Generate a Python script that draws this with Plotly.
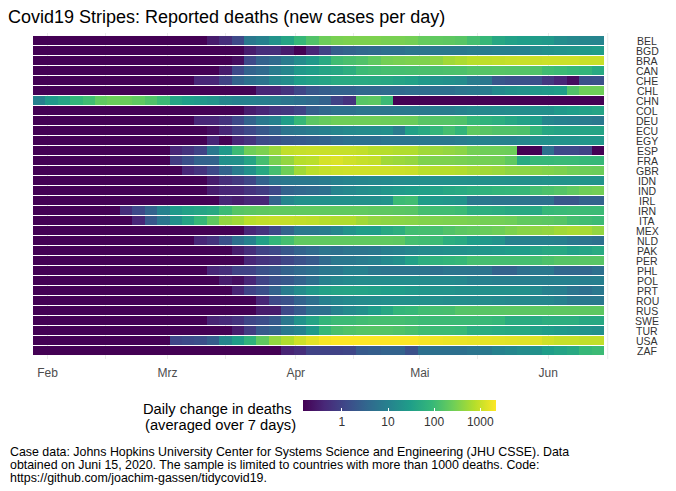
import numpy as np
import pandas as pd
import plotly.graph_objects as go

# 7-day average of new deaths per day, one value per 3-day block starting 2020-01-29
countries = ["BEL", "BGD", "BRA", "CAN", "CHE", "CHL", "CHN", "COL", "DEU", "ECU", "EGY",
             "ESP", "FRA", "GBR", "IDN", "IND", "IRL", "IRN", "ITA", "MEX", "NLD", "PAK",
             "PER", "PHL", "POL", "PRT", "ROU", "RUS", "SWE", "TUR", "USA", "ZAF"]

BEL = [0]*14 + [0.3, 0.5, 1.2, 7, 10, 20, 40, 90, 150, 250, 300, 320, 320, 320, 300, 300, 280, 220, 200, 190, 170, 120, 90, 45, 35, 30, 28, 25, 16, 13, 12, 11]
BGD = [0]*17 + [0.3, 0.5, 0.5, 0.3, 0, 0.4, 1.0, 2.5, 3, 3.5, 4, 5, 5, 6, 6, 7, 7, 7, 8, 8, 9, 9, 10, 15, 18, 20, 22, 25, 28]
BRA = [0]*16 + [0.2, 1.2, 3, 4, 8, 15, 25, 50, 110, 130, 150, 200, 280, 300, 320, 330, 400, 550, 650, 800, 850, 900, 950, 1000, 1000, 1050, 1050, 1050, 1000, 1000]
CAN = [0]*15 + [0.3, 1.2, 3, 4, 8, 12, 25, 30, 40, 45, 60, 100, 110, 120, 120, 125, 130, 130, 135, 140, 160, 165, 170, 165, 160, 150, 110, 100, 90, 80, 50]
CHE = [0]*13 + [0.4, 0.4, 1, 3, 5, 6, 12, 16, 30, 35, 40, 50, 50, 50, 48, 45, 40, 35, 25, 20, 18, 15, 8, 7, 2, 1.6, 1.6, 1.5, 0.7, 0.4, 0.2, 1.5, 1.6]
CHL = [0]*18 + [0.4, 0.4, 0.6, 1.1, 2, 2.5, 3, 3, 3.5, 3.5, 4, 4, 4.5, 4.5, 5, 5, 6, 7, 8, 14, 18, 20, 22, 25, 30, 150, 260, 260]
CHN = [10, 25, 40, 80, 110, 200, 240, 240, 200, 150, 100, 40, 30, 25, 20, 12, 10, 10, 9, 8, 6, 5, 4, 3, 1, 0.6, 170, 185, 100] + [0]*17
COL = [0]*17 + [0.3, 0.4, 0.6, 0.7, 1, 2.5, 3.5, 5, 5, 6, 6, 6, 7, 7, 7, 8, 8, 10, 12, 13, 14, 15, 16, 17, 18, 25, 30, 35, 40]
DEU = [0]*13 + [0.4, 0.4, 0.6, 1.2, 3, 7, 10, 30, 90, 180, 220, 260, 260, 260, 260, 250, 250, 240, 170, 165, 160, 150, 90, 70, 60, 45, 35, 30, 12, 10, 9, 8, 7]
ECU = [0]*14 + [0.2, 0.4, 0.8, 1.2, 2, 3, 6, 7, 8, 10, 12, 14, 15, 16, 18, 8, 35, 50, 80, 120, 80, 200, 170, 150, 150, 140, 80, 45, 40, 40, 40, 40]
EGY = [0]*14 + [0.4, 0, 0.4, 0.6, 1.2, 1.5, 2, 2.2, 2.5, 3, 4, 5, 5, 5, 6, 6, 6, 7, 7, 7, 8, 10, 10, 10, 10, 12, 18, 18, 20, 20, 22, 22]
ESP = [0]*11 + [0.4, 0.6, 1, 7, 25, 100, 260, 320, 500, 900, 950, 1000, 1000, 950, 950, 900, 750, 750, 700, 700, 550, 500, 450, 400, 280, 260, 260, 250, 0, 0, 5, 1.2, 1.2, 1, 0]
FRA = [0]*11 + [0.8, 1.5, 3, 3, 18, 18, 40, 120, 300, 450, 750, 800, 1200, 1300, 1100, 950, 900, 550, 500, 450, 330, 320, 320, 300, 280, 280, 270, 200, 50, 90, 90, 95, 95, 90, 90]
GBR = [0]*12 + [0.4, 0.6, 1.2, 3, 8, 18, 47, 120, 260, 550, 800, 950, 1050, 1100, 1100, 1100, 1100, 1050, 1000, 800, 750, 750, 700, 600, 550, 500, 420, 400, 380, 350, 320, 270, 260, 250]
IDN = [0]*14 + [0.3, 0.5, 0.7, 1.1, 3, 6, 7, 7, 7, 8, 10, 11, 12, 13, 14, 15, 16, 17, 17, 18, 18, 18, 18, 18, 18, 18, 18, 19, 19, 20, 20, 20]
IND = [0]*14 + [0.3, 0.4, 0.4, 0.6, 0.8, 1.2, 3, 3.5, 4, 5, 11, 13, 16, 18, 22, 26, 29, 33, 38, 45, 50, 60, 70, 80, 85, 90, 120, 140, 160, 200, 260, 280]
IRL = [0]*15 + [0.4, 0.3, 0.4, 0.4, 3, 12, 18, 18, 18, 18, 18, 18, 18, 20, 100, 110, 29, 25, 22, 20, 7, 7, 6, 6, 6, 5, 5, 2, 2, 3, 3]
IRN = [0]*7 + [0.5, 1.2, 3, 10, 25, 35, 40, 47, 100, 165, 180, 190, 200, 200, 200, 200, 200, 200, 200, 200, 190, 190, 180, 170, 120, 110, 110, 100, 60, 60, 55, 47, 47, 47, 90, 95, 100, 100, 100]
ITA = [0]*8 + [0.4, 2, 6, 18, 40, 90, 200, 450, 550, 800, 900, 950, 950, 900, 850, 750, 700, 700, 550, 450, 420, 400, 380, 350, 330, 320, 320, 300, 280, 280, 260, 200, 190, 180, 165, 120, 110, 100]
MEX = [0]*17 + [0.4, 0.6, 1.2, 3, 7, 7, 8, 12, 20, 29, 29, 47, 60, 110, 120, 120, 150, 180, 200, 230, 260, 320, 380, 420, 450, 550, 620, 600, 450]
NLD = [0]*13 + [0.4, 0.6, 1.6, 5, 10, 35, 80, 120, 200, 200, 200, 200, 200, 200, 200, 200, 190, 120, 110, 100, 60, 50, 29, 25, 20, 10, 10, 10, 10, 9, 7, 6, 5]
PAK = [0]*16 + [0.3, 0.5, 1, 1.2, 2, 3, 4, 6, 5, 6, 6, 7, 9, 10, 12, 14, 16, 18, 18, 20, 22, 25, 29, 29, 40, 47, 47, 35, 40, 50]
PER = [0]*17 + [0.4, 0.6, 0.7, 1.1, 1.6, 2.2, 4, 7, 7, 8, 10, 14, 18, 35, 60, 70, 80, 90, 120, 120, 120, 120, 120, 120, 140, 165, 165, 170, 170]
PHL = [0]*14 + [0.4, 0.5, 1, 1, 1.6, 2, 3, 4, 5, 7, 7, 10, 10, 7, 6, 6, 6, 6, 5, 6, 6, 6, 6, 3, 3, 5, 7, 7, 3.5, 3.5, 3.5, 5]
POL = [0]*15 + [0.3, 0.2, 0.4, 1, 1.6, 2, 3, 5, 10, 12, 14, 15, 15, 16, 16, 16, 15, 14, 14, 13, 10, 10, 9, 9, 9, 9, 9, 10, 10, 9, 9]
PRT = [0]*16 + [0.37, 1, 1.5, 3, 8, 15, 25, 35, 40, 40, 38, 35, 30, 29, 25, 22, 20, 20, 18, 18, 18, 18, 18, 18, 14, 10, 9, 6, 5, 7]
ROU = [0]*18 + [0.4, 1.2, 1.6, 3, 5, 10, 12, 14, 15, 16, 17, 18, 18, 18, 17, 16, 16, 15, 15, 14, 13, 13, 12, 12, 10, 7, 7, 7]
RUS = [0]*18 + [0.3, 0.3, 1.2, 2.2, 5, 5, 10, 14, 18, 29, 45, 80, 90, 110, 120, 125, 160, 165, 170, 175, 180, 180, 185, 185, 190, 190, 190, 190]
SWE = [0]*14 + [0.37, 0.45, 0.6, 1.1, 1.4, 2.2, 7, 20, 40, 80, 100, 100, 110, 120, 120, 120, 110, 100, 100, 100, 100, 100, 95, 90, 55, 55, 50, 60, 60, 60, 47, 47]
TUR = [0]*16 + [0.3, 0.8, 2.2, 3, 7, 10, 25, 90, 130, 150, 160, 165, 160, 150, 130, 110, 100, 100, 95, 60, 55, 50, 47, 47, 35, 29, 25, 22, 20, 18]
USA = [0]*11 + [1.1, 1.3, 1.5, 2.5, 12, 29, 70, 200, 450, 700, 1100, 1500, 2000, 2200, 2200, 2200, 2200, 2200, 2200, 2200, 2000, 1800, 1700, 1650, 1600, 1550, 1500, 1450, 1400, 1350, 1100, 950, 950, 900, 900]
ZAF = [0]*20 + [0.37, 0.5, 1, 1, 1, 1.1, 2.2, 2.5, 3, 3, 1.6, 5, 5, 5, 5, 6, 7, 10, 12, 15, 18, 29, 38, 47, 90, 100]

series = [BEL, BGD, BRA, CAN, CHE, CHL, CHN, COL, DEU, ECU, EGY, ESP, FRA, GBR, IDN, IND,
          IRL, IRN, ITA, MEX, NLD, PAK, PER, PHL, POL, PRT, ROU, RUS, SWE, TUR, USA, ZAF]

block_centres = pd.date_range("2020-01-30", periods=46, freq="3D")
month_ticks = ["2020-02-01", "2020-03-01", "2020-04-01", "2020-05-01", "2020-06-01"]
month_labels = ["Feb", "Mrz", "Apr", "Mai", "Jun"]
mid_month = ["2020-02-15", "2020-03-15", "2020-04-15", "2020-05-15"]
legend_ticks = [1, 10, 100, 1000]

floor = 1 / 7
top = 2200
z = [[np.log10(max(v, floor)) for v in s] for s in series]

W, H = 676, 491
L, R, T, B = 33, 604, 33, 359
pw, ph = R - L, B - T


def px(x):
    return (x - L) / pw


def py(y):
    return (B - y) / ph


fig = go.Figure(go.Heatmap(
    x=block_centres, y=countries, z=z,
    colorscale="Viridis", zmin=np.log10(floor), zmax=np.log10(top),
    ygap=1, hoverinfo="skip",
    colorbar=dict(
        orientation="h", lenmode="pixels", len=193, thickness=11,
        x=px(303), xanchor="left", y=py(400), yanchor="top",
        xpad=0, ypad=0, outlinewidth=0,
        tickvals=[np.log10(v) for v in legend_ticks],
        ticktext=[str(v) for v in legend_ticks],
        ticks="inside", ticklen=3, tickcolor="white", tickwidth=1,
        tickfont=dict(size=12, color="#333333", family="Liberation Sans, Arial, sans-serif"),
    ),
))

annotations = []
for c in countries:
    annotations.append(dict(
        x=1, xref="paper", xshift=43, y=c, yref="y", text=c, showarrow=False,
        xanchor="center", yanchor="middle",
        font=dict(size=10.5, color="#333333",
                  family="Liberation Sans Narrow, Arial Narrow, Liberation Sans, Arial"),
    ))

annotations.append(dict(x=px(217), y=py(409), xref="paper", yref="paper",
                        text="Daily change in deaths", showarrow=False,
                        xanchor="center", yanchor="middle",
                        font=dict(size=14.7, color="#000000")))
annotations.append(dict(x=px(220), y=py(425), xref="paper", yref="paper",
                        text="(averaged over 7 days)", showarrow=False,
                        xanchor="center", yanchor="middle",
                        font=dict(size=14.7, color="#000000")))

caption_lines = [
    "Case data: Johns Hopkins University Center for Systems Science and Engineering (JHU CSSE). Data",
    "obtained on Juni 15, 2020. The sample is limited to countries with more than 1000 deaths. Code:",
    "https://github.com/joachim-gassen/tidycovid19.",
]
for i, line in enumerate(caption_lines):
    annotations.append(dict(x=px(8), y=py(452 + 13 * i), xref="paper", yref="paper",
                            text=line, showarrow=False, xanchor="left", yanchor="middle",
                            font=dict(size=12.4, color="#000000")))

fig.update_layout(
    width=W, height=H,
    margin=dict(l=L, r=W - R, t=T, b=H - B, pad=0),
    paper_bgcolor="white", plot_bgcolor="white",
    font=dict(family="Liberation Sans, Arial, sans-serif", color="#000000"),
    title=dict(text="Covid19 Stripes: Reported deaths (new cases per day)",
               x=8 / W, xref="container", xanchor="left",
               y=1 - 17 / H, yref="container", yanchor="middle",
               font=dict(size=18, color="#000000")),
    xaxis=dict(type="date", range=["2020-01-28 12:00", "2020-06-14 12:00"],
               tickmode="array", tickvals=month_ticks, ticktext=month_labels,
               showgrid=True, gridcolor="#ebebeb", gridwidth=1, zeroline=False,
               ticks="", showline=False, ticklabelstandoff=5,
               tickfont=dict(size=12, color="#4d4d4d"),
               minor=dict(tickvals=mid_month, showgrid=True, gridcolor="#ebebeb", gridwidth=1)),
    yaxis=dict(type="category", autorange="reversed", showticklabels=False,
               showgrid=False, zeroline=False, ticks=""),
    annotations=annotations,
    shapes=[dict(type="line", xref="paper", yref="paper", x0=px(607.7), x1=px(607.7),
                 y0=0, y1=1, line=dict(color="#ebebeb", width=1))],
)

fig.write_html("out.html")
